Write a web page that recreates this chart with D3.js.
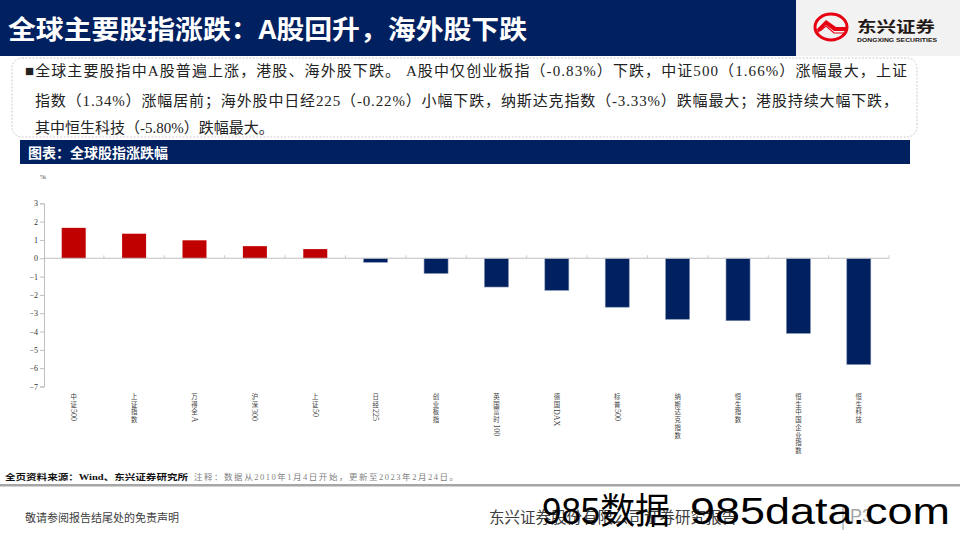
<!DOCTYPE html>
<html><head><meta charset="utf-8">
<script src="https://cdn.jsdelivr.net/npm/d3@7"></script>
<style>
html,body{margin:0;padding:0;background:#fff;}
svg{display:block;}
.serif{font-family:"Liberation Serif","Noto Sans CJK SC",serif;}
.sans{font-family:"Noto Sans CJK SC","Liberation Sans",sans-serif;}
</style></head>
<body>
<svg id="c" width="960" height="540"></svg>
<script>
const categories = ['中证500','上证指数','万得全A','沪深300','上证50','日经225','创业板指','英国富时100','德国DAX','标普500','纳斯达克指数','恒生指数','恒生中国企业指数','恒生科技'];
const values = [1.66,1.34,0.98,0.66,0.50,-0.22,-0.83,-1.57,-1.75,-2.67,-3.33,-3.41,-4.10,-5.80];
const yTicks = [3,2,1,0,-1,-2,-3,-4,-5,-6,-7];
const titleText = '全球主要股指涨跌：A股回升，海外股下跌';
const chartTitle = '图表：全球股指涨跌幅';
const bodyLines = [
  '■全球主要股指中A股普遍上涨，港股、海外股下跌。 A股中仅创业板指（-0.83%）下跌，中证500（1.66%）涨幅最大，上证',
  '指数（1.34%）涨幅居前；海外股中日经225（-0.22%）小幅下跌，纳斯达克指数（-3.33%）跌幅最大；港股持续大幅下跌，',
  '其中恒生科技（-5.80%）跌幅最大。'
];

const svg = d3.select('#c');
const NAVY = '#002060', RED = '#C00000';

// Title bar
svg.append('rect').attr('x',0).attr('y',0).attr('width',796).attr('height',56).attr('fill',NAVY);
svg.append('rect').attr('x',796).attr('y',0).attr('width',164).attr('height',56).attr('fill','#F2F2F2');
svg.append('text').attr('class','sans').attr('x',8).attr('y',39)
  .attr('font-size',26).attr('font-weight','bold').attr('fill','#fff')
  .attr('textLength',519).attr('lengthAdjust','spacingAndGlyphs').text(titleText);

// Logo
const lg = svg.append('g');
lg.append('ellipse').attr('cx',831).attr('cy',27).attr('rx',16).attr('ry',13).attr('fill','none').attr('stroke','#E60012').attr('stroke-width',3);
lg.append('path').attr('d','M817,29 L826,20 L836,27 L846,27 L846,31 L834,31 L826,25 L818,33 Z').attr('fill','#E60012');
lg.append('path').attr('d','M820,31 L826,26 L834,33 L844,33').attr('fill','none').attr('stroke','#E60012').attr('stroke-width',1.2);
lg.append('text').attr('class','sans').attr('x',857).attr('y',32).attr('font-size',15).attr('font-weight','bold')
  .attr('fill','#231815').attr('textLength',78).attr('lengthAdjust','spacingAndGlyphs').text('东兴证券');
lg.append('text').attr('x',857).attr('y',42).attr('font-size',5).attr('font-family','Liberation Sans').attr('font-weight','bold')
  .attr('fill','#231815').attr('textLength',80).attr('lengthAdjust','spacingAndGlyphs').text('DONGXING SECURITIES');

// Text box
svg.append('rect').attr('x',12).attr('y',58).attr('width',905).attr('height',79).attr('rx',10)
  .attr('fill','#fff').attr('stroke','#BFBFBF').attr('stroke-width',0.8).attr('stroke-dasharray','2,1.5');
const lineX = [25,35,35], lineW = [882,863,null], lineY = [76,106,133];
bodyLines.forEach((t,i)=>{
  const tx = svg.append('text').attr('class','serif').attr('x',lineX[i]).attr('y',lineY[i])
    .attr('font-size',15).attr('fill','#222').text(t);
  if(lineW[i]) tx.attr('textLength',lineW[i]).attr('lengthAdjust','spacing');
});

// Chart header bar
svg.append('rect').attr('x',20).attr('y',140).attr('width',890).attr('height',24).attr('fill',NAVY);
svg.append('text').attr('class','sans').attr('x',28).attr('y',158).attr('font-size',14).attr('font-weight','bold')
  .attr('fill','#fff').text(chartTitle);

// Chart
const x = d3.scaleBand().domain(categories).range([43.5, 889]).paddingInner(0).paddingOuter(0);
const y = d3.scaleLinear().domain([-7,3]).range([386.5,203.3]);

svg.append('text').attr('class','serif').attr('x',40).attr('y',179).attr('font-size',7).attr('fill','#333').text('%');

const yAxis = d3.axisLeft(y).tickValues(yTicks).tickSize(4).tickPadding(2).tickFormat(d3.format('d'));
const gy = svg.append('g').attr('transform','translate(44,0)').call(yAxis);
gy.select('.domain').attr('stroke','#BFBFBF');
gy.selectAll('.tick line').attr('stroke','#BFBFBF');
gy.selectAll('text').attr('font-size',8).attr('fill','#333')
  .style('font-family','"Liberation Serif",serif');

// bars
const bw = 24;
svg.append('g').selectAll('rect').data(categories).join('rect')
  .attr('x',(d)=>x(d)+x.bandwidth()/2-bw/2)
  .attr('y',(d,i)=>values[i]>=0?y(values[i]):y(0))
  .attr('width',bw)
  .attr('height',(d,i)=>Math.abs(y(values[i])-y(0)))
  .attr('fill',(d,i)=>values[i]>=0?RED:NAVY)
  .attr('stroke',(d,i)=>values[i]>=0?'none':'#7F8FB0')
  .attr('stroke-width',0.6);

// x axis at zero with upward ticks at band boundaries
const gx = svg.append('g');
gx.append('line').attr('x1',x.range()[0]).attr('x2',x.range()[1]).attr('y1',y(0)).attr('y2',y(0))
  .attr('stroke','#BFBFBF').attr('stroke-width',1.2);
const bounds = categories.map(c=>x(c)+x.bandwidth());
gx.selectAll('line.tk').data(bounds).join('line').attr('class','tk')
  .attr('x1',d=>d).attr('x2',d=>d).attr('y1',y(0)).attr('y2',y(0)-3)
  .attr('stroke','#BFBFBF').attr('stroke-width',0.8);

// vertical category labels: CJK stacked upright, Latin runs rotated 90deg
const fs = 6.4, adv = 7.7;
const labG = svg.append('g').selectAll('g').data(categories).join('g')
  .attr('transform',d=>`translate(${x(d)+x.bandwidth()/2},393)`);
labG.each(function(d){
  const g = d3.select(this);
  const runs = d.match(/[\u4e00-\u9fff]|[^\u4e00-\u9fff]+/g);
  let yy = 0;
  runs.forEach(r=>{
    if(/[\u4e00-\u9fff]/.test(r)){
      g.append('text').attr('x',0).attr('y',yy+fs*0.95).attr('text-anchor','middle')
        .attr('font-size',fs).attr('fill','#404040')
        .attr('font-family','"Noto Sans CJK SC",sans-serif').text(r);
      yy += adv;
    } else {
      const t = g.append('text').attr('transform',`translate(0,${yy+0.5}) rotate(90)`)
        .attr('x',0).attr('y',2.6).attr('font-size',8).attr('fill','#404040')
        .attr('font-family','"Liberation Serif",serif').text(r);
      yy += t.node().getComputedTextLength()+1;
    }
  });
});

// Footer source
svg.append('text').attr('class','serif').attr('x',5).attr('y',480).attr('font-size',8.5)
  .attr('fill','#111').attr('font-weight','bold').attr('textLength',183).attr('lengthAdjust','spacingAndGlyphs')
  .text('全页资料来源：Wind、东兴证券研究所');
svg.append('text').attr('class','serif').attr('x',194).attr('y',480).attr('font-size',8.5)
  .attr('fill','#7F7F7F').attr('textLength',264).attr('lengthAdjust','spacing')
  .text('注释：数据从2010年1月4日开始，更新至2023年2月24日。');
svg.append('rect').attr('x',0).attr('y',484).attr('width',960).attr('height',2.5).attr('fill','#A6A6A6');

svg.append('text').attr('class','serif').attr('x',25).attr('y',522).attr('font-size',11)
  .attr('fill','#404040').text('敬请参阅报告结尾处的免责声明');
svg.append('text').attr('class','serif').attr('x',489).attr('y',523).attr('font-size',15.5)
  .attr('fill','#404040').attr('textLength',248).attr('lengthAdjust','spacing').text('东兴证券股份有限公司证券研究报告');
svg.append('line').attr('x1',843).attr('x2',843).attr('y1',505).attr('y2',530).attr('stroke','#A6A6A6').attr('stroke-width',1.2);
svg.append('text').attr('x',850).attr('y',522).attr('font-size',18).attr('fill','#A6A6A6')
  .attr('font-family','Liberation Sans').text('P3');

// watermark
svg.append('text').attr('x',542).attr('y',524).attr('font-size',36).attr('fill','#000')
  .attr('font-family','"Liberation Sans","Noto Sans CJK SC",sans-serif')
  .attr('textLength',128).attr('lengthAdjust','spacingAndGlyphs').text('985数据');
svg.append('text').attr('x',690).attr('y',524).attr('font-size',36).attr('fill','#000')
  .attr('font-family','"Liberation Sans",sans-serif')
  .attr('textLength',260).attr('lengthAdjust','spacingAndGlyphs').text('985data.com');
</script>
</body></html>
